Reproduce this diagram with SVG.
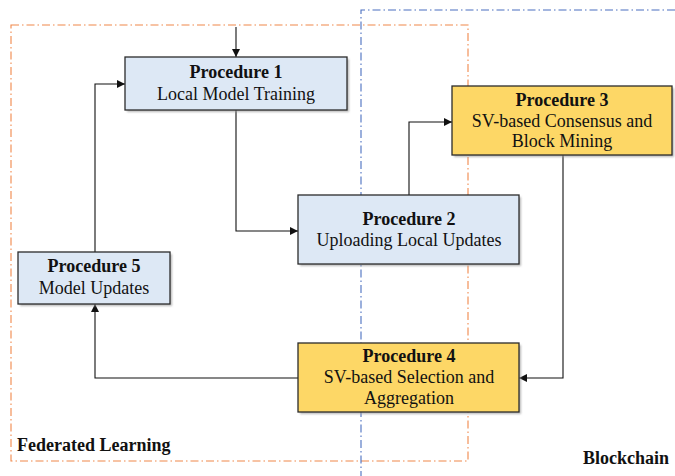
<svg xmlns="http://www.w3.org/2000/svg" width="675" height="476" viewBox="0 0 675 476">
  <style>
    .box-blue { fill: #dde8f5; stroke: #2b2b2b; stroke-width: 1.3; }
    .box-gold { fill: #fdd766; stroke: #2b2b2b; stroke-width: 1.3; }
    .shadow { fill: #9a9a9a; opacity: 0.7; filter: url(#soft); }
    .title { font-family: "Liberation Serif", "Times New Roman", serif; font-size: 18px; font-weight: bold; fill: #111; text-anchor: middle; }
    .sub { font-family: "Liberation Serif", "Times New Roman", serif; font-size: 18px; fill: #111; text-anchor: middle; }
    .region-label { font-family: "Liberation Serif", "Times New Roman", serif; font-size: 18px; font-weight: bold; fill: #111; }
    .link { fill: none; stroke: #111; stroke-width: 1.1; marker-end: url(#arrow); }
  </style>
  <defs>
    <filter id="soft" x="-10%" y="-10%" width="120%" height="120%">
      <feGaussianBlur stdDeviation="1"/>
    </filter>
    <marker id="arrow" viewBox="0 0 10 10" refX="10" refY="5" markerWidth="8" markerHeight="8" markerUnits="userSpaceOnUse" orient="auto">
      <path d="M0,0 L10,5 L0,10 z" fill="#111"/>
    </marker>
  </defs>

  <rect width="675" height="476" fill="#ffffff"/>

  <!-- Region boundaries -->
  <g id="regions">
    <rect x="11" y="25" width="457" height="436" fill="none" stroke="#f0884a" stroke-width="1.1" stroke-dasharray="8,3,1.5,3"/>
    <polyline points="675,10 361,10 361,476" fill="none" stroke="#4a6fc0" stroke-width="1.1" stroke-dasharray="8,3,1.5,3"/>
    <text class="region-label" x="17" y="451">Federated Learning</text>
    <text class="region-label" x="583" y="464">Blockchain</text>
  </g>

  <!-- Connectors -->
  <g id="connectors">
    <path class="link" d="M236,27 L236,57"/>
    <path class="link" d="M236,110 L236,231 L298,231"/>
    <path class="link" d="M409,195 L409,122 L452,122"/>
    <path class="link" d="M563,155 L563,378 L519,378"/>
    <path class="link" d="M298,378 L95,378 L95,304"/>
    <path class="link" d="M95,252 L95,84 L125,84"/>
  </g>

  <g id="procedure1">
    <rect class="shadow" x="127" y="59" width="222" height="53"/>
    <rect class="box-blue" x="125" y="57" width="222" height="53"/>
    <text class="title" x="236" y="78">Procedure 1</text>
    <text class="sub" x="236" y="100">Local Model Training</text>
  </g>

  <g id="procedure2">
    <rect class="shadow" x="300" y="197" width="221" height="69"/>
    <rect class="box-blue" x="298" y="195" width="221" height="69"/>
    <text class="title" x="409" y="225">Procedure 2</text>
    <text class="sub" x="409" y="246">Uploading Local Updates</text>
  </g>

  <g id="procedure3">
    <rect class="shadow" x="454" y="88" width="220" height="69"/>
    <rect class="box-gold" x="452" y="86" width="220" height="69"/>
    <text class="title" x="562" y="106">Procedure 3</text>
    <text class="sub" x="562" y="127">SV-based Consensus and</text>
    <text class="sub" x="562" y="147">Block Mining</text>
  </g>

  <g id="procedure4">
    <rect class="shadow" x="300" y="345" width="221" height="69"/>
    <rect class="box-gold" x="298" y="343" width="221" height="69"/>
    <text class="title" x="409" y="362">Procedure 4</text>
    <text class="sub" x="409" y="383">SV-based Selection and</text>
    <text class="sub" x="409" y="404">Aggregation</text>
  </g>

  <g id="procedure5">
    <rect class="shadow" x="20" y="254" width="152" height="52"/>
    <rect class="box-blue" x="18" y="252" width="152" height="52"/>
    <text class="title" x="94" y="272">Procedure 5</text>
    <text class="sub" x="94" y="294">Model Updates</text>
  </g>
</svg>
